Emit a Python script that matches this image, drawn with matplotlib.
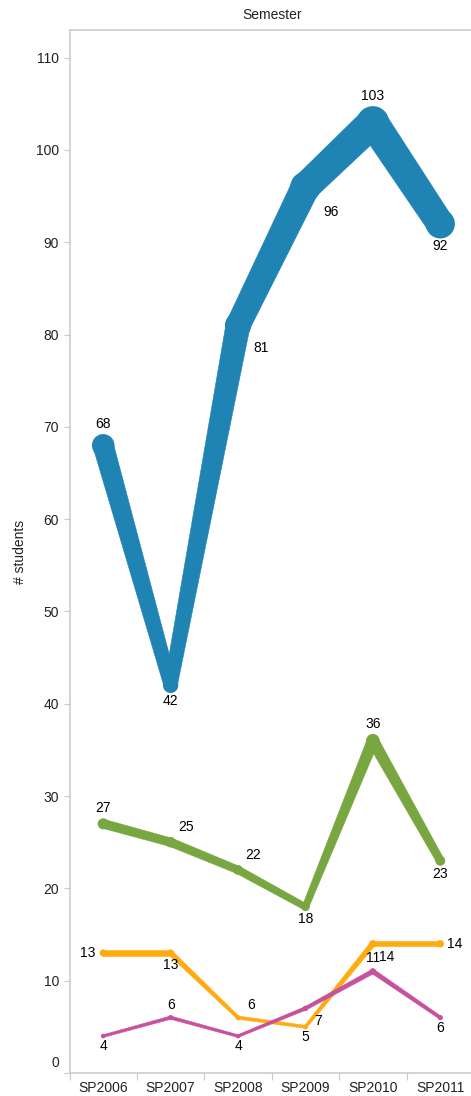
import matplotlib
matplotlib.use("Agg")
import matplotlib.pyplot as plt
import numpy as np
from matplotlib.patches import Polygon
from matplotlib.ticker import FixedLocator, FuncFormatter

# ---- data -------------------------------------------------------------
semesters = ["SP2006", "SP2007", "SP2008", "SP2009", "SP2010", "SP2011"]
students_a = [68, 42, 81, 96, 103, 92]
students_b = [27, 25, 22, 18, 36, 23]
students_c = [13, 13, 6, 5, 14, 14]
students_d = [4, 6, 4, 7, 11, 6]
y_ticks = list(range(0, 111, 10))

# ---- style ------------------------------------------------------------
plt.rcParams["font.family"] = ["Liberation Sans", "DejaVu Sans"]
plt.rcParams["font.size"] = 10
DPI = 100
GRID_GRAY = "#c8c8c8"
TEXT = "#222222"

series_colors = ["#1f83b4", "#78a641", "#ffaa0e", "#c7519c"]
label_places = [
    ["above", "below", "below-right", "below-right", "above", "below"],
    ["above", "above-right", "above-right", "below", "above", "below"],
    ["left", "below", "above-right", "below", "below-right", "right"],
    ["below", "above", "below", "below-right", "above", "below"],
]


def marker_px(v):
    """Marker diameter in pixels for a value (size encoding)."""
    return 3.5 + 0.28 * v


def band_px(v):
    """Line thickness in pixels for a value."""
    return max(marker_px(v) - 2.0, 2.0)


fig = plt.figure(figsize=(471 / DPI, 1096 / DPI), dpi=DPI)
W, H = 471.0, 1096.0
left_px, right_px, top_px, bottom_px = 69.5, 474.0, 30.0, 1073.0
ax = fig.add_axes([left_px / W, (H - bottom_px) / H,
                   (right_px - left_px) / W, (bottom_px - top_px) / H])

x = np.arange(len(semesters))
ax.set_xlim(-0.5, len(semesters) - 0.5)
ax.set_ylim(0, 113)

# spines
for side in ("left", "top", "bottom"):
    ax.spines[side].set_color(GRID_GRAY)
    ax.spines[side].set_linewidth(1.1)
ax.spines["right"].set_visible(False)

# y axis
ax.yaxis.set_major_locator(FixedLocator(y_ticks))
ax.yaxis.set_major_formatter(FuncFormatter(lambda v, _: "" if v == 0 else f"{int(v)}"))
ax.tick_params(axis="y", which="major", length=4.4, width=0.8, color=GRID_GRAY,
               pad=3, labelcolor=TEXT, labelsize=10)
ax.annotate("0", xy=(0, 0), xycoords=("axes fraction", "data"), xytext=(-10.5, 10),
            textcoords="offset pixels", ha="right", va="center", color=TEXT, fontsize=10)

# x axis: boundaries as major ticks, names at centres as minor ticks
ax.xaxis.set_major_locator(FixedLocator(np.arange(-0.5, len(semesters), 1.0)))
ax.xaxis.set_major_formatter(FuncFormatter(lambda v, _: ""))
ax.xaxis.set_minor_locator(FixedLocator(x))
ax.xaxis.set_minor_formatter(FuncFormatter(lambda v, _: semesters[int(round(v))]))
ax.tick_params(axis="x", which="major", length=5, width=0.8, color=GRID_GRAY)
ax.tick_params(axis="x", which="minor", length=0, pad=5.5, labelcolor=TEXT, labelsize=10)

fig.text((left_px + right_px) / 2 / W, 1 - 15 / H, "Semester", ha="center", va="center",
         color=TEXT, fontsize=10)
fig.text(20 / W, 1 - (top_px + bottom_px) / 2 / H, "# students", rotation=90,
         ha="center", va="center", color=TEXT, fontsize=10)


def draw_series(values, color, places, z):
    vals = np.asarray(values, dtype=float)
    pts = ax.transData.transform(np.column_stack([x, vals]))
    inv = ax.transData.inverted()
    for i in range(len(pts) - 1):
        p0, p1 = pts[i], pts[i + 1]
        d = p1 - p0
        n = np.array([-d[1], d[0]]) / np.hypot(d[0], d[1])
        w0, w1 = band_px(vals[i]) / 2, band_px(vals[i + 1]) / 2
        quad = np.array([p0 + n * w0, p1 + n * w1, p1 - n * w1, p0 - n * w0])
        ax.add_patch(Polygon(inv.transform(quad), closed=True, facecolor=color,
                             edgecolor=color, linewidth=0.4, zorder=z))
    sizes = [(marker_px(v) * 72 / DPI) ** 2 for v in vals]
    ax.scatter(x, vals, s=sizes, color=color, linewidths=0, zorder=z + 0.1)
    for xi, v, place in zip(x, vals, places):
        r = marker_px(v) / 2
        ha = "center"
        if place == "above":
            off = (0, r + 10)
        elif place == "below":
            off = (0, -(r + 8))
        elif place == "below-right":
            off = (r + 10, -(r + 10))
        elif place == "above-right":
            off = (r + 10, r + 10)
        elif place == "left":
            off, ha = (-(r + 4), 0), "right"
        else:
            off, ha = (r + 3, 0), "left"
        ax.annotate(f"{int(v)}", xy=(xi, v), xytext=off, textcoords="offset pixels",
                    ha=ha, va="center", color="black", fontsize=10, zorder=20)


draw_series(students_a, series_colors[0], label_places[0], 5)
draw_series(students_b, series_colors[1], label_places[1], 6)
draw_series(students_c, series_colors[2], label_places[2], 7)
draw_series(students_d, series_colors[3], label_places[3], 8)

fig.savefig("out.png", dpi=DPI)
